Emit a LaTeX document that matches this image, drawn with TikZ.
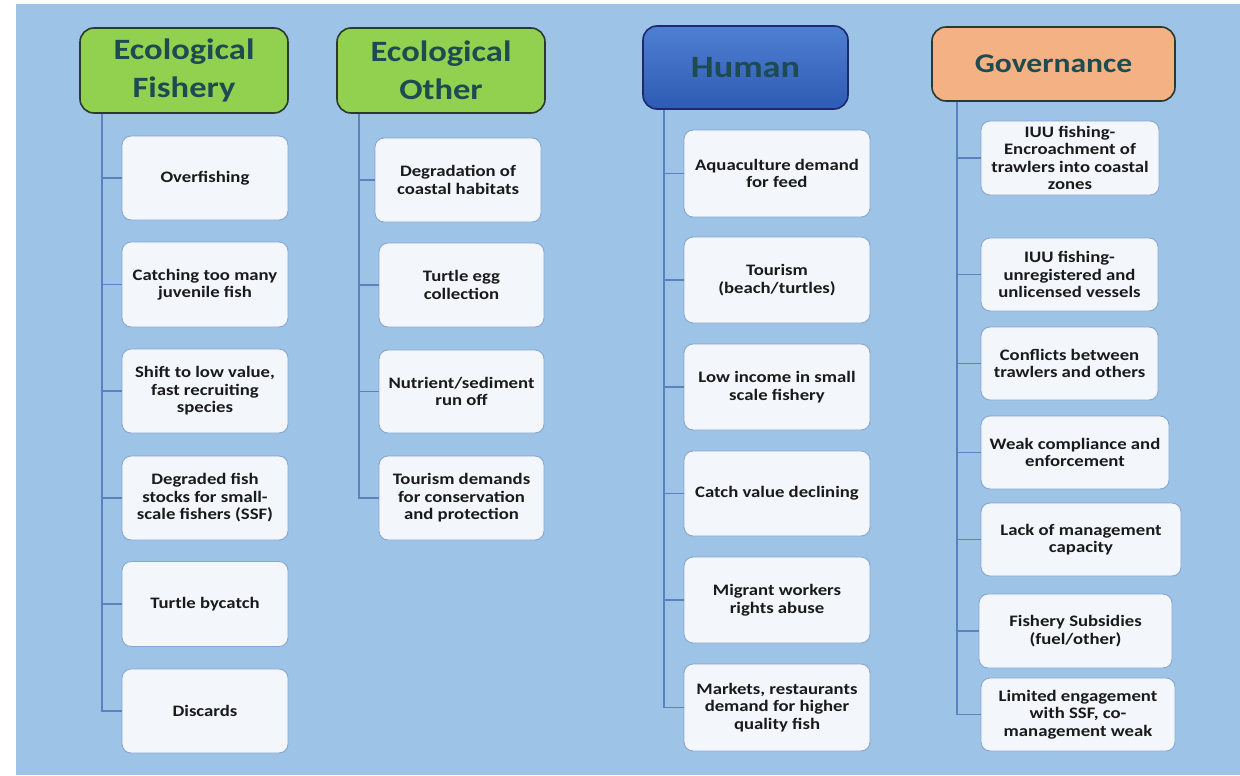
\documentclass[tikz,border=0pt]{standalone}
\usepackage{fontspec}
\setmainfont{Carlito}[FakeStretch=1.17]
\usetikzlibrary{calc}
\definecolor{bgblue}{HTML}{9DC3E6}
\definecolor{hdtext}{HTML}{1E4B50}
\definecolor{greenfill}{HTML}{92D050}
\definecolor{orangefill}{HTML}{F4B183}
\definecolor{bluetop}{HTML}{4F7FD3}
\definecolor{bluebot}{HTML}{2E5BB3}
\definecolor{hdborder}{HTML}{2A3A30}
\definecolor{itemfill}{HTML}{F3F6FB}
\definecolor{itemborder}{HTML}{86A6D6}
\definecolor{treeline}{HTML}{5A82BE}
\definecolor{itemtext}{HTML}{1A1A1A}
\tikzset{
  header/.style={draw=hdborder, line width=1.6pt, rounded corners=14pt,
    text=hdtext, font=\fontsize{29.5}{38}\selectfont\bfseries, align=center,
    inner sep=0pt},
  item/.style={draw=itemborder, line width=0.9pt, fill=itemfill,
    rounded corners=9pt, text=itemtext, align=center, inner sep=0pt,
    font=\fontsize{16}{17.5}\selectfont\bfseries},
  tree/.style={draw=treeline, line width=1.2pt}
}
\newcommand{\itm}[6]{% name, x, y, width, height, text
  \node[item, minimum width=#4, minimum height=#5] (#1) at (#2,#3) {#6};}
\begin{document}
\begin{tikzpicture}[x=1pt,y=-1pt]
\useasboundingbox (0,0) rectangle (1240,776);
\fill[bgblue] (16,4) rectangle (1240,775);

% column headers
\node[header, fill=greenfill, minimum width=208, minimum height=85] (hf) at (184,70.5)
  {Ecological\\Fishery};
\node[header, fill=greenfill, minimum width=208, minimum height=85] (ho) at (441,70.5)
  {Ecological\\Other};
\node[header, top color=bluetop, bottom color=bluebot, draw=hdborder!70!blue,
  minimum width=205, minimum height=83, font=\fontsize{31}{36}\selectfont\bfseries]
  (hh) at (745.5,67.5) {Human};
\node[header, fill=orangefill, minimum width=243, minimum height=74,
  font=\fontsize{27}{32}\selectfont\bfseries] (hg) at (1053.5,64) {Governance};

% ecological: fishery
\itm{f1}{205}{178}{166}{84}{Overfishing}
\itm{f2}{205}{284.5}{166}{85}{Catching too many\\juvenile fish}
\itm{f3}{205}{391}{166}{84}{Shift to low value,\\fast recruiting\\species}
\itm{f4}{205}{498}{166}{84}{Degraded fish\\stocks for small-\\scale fishers (SSF)}
\itm{f5}{205}{604}{166}{85}{Turtle bycatch}
\itm{f6}{205}{711}{166}{84}{Discards}

% ecological: other
\itm{o1}{458}{180}{166}{84}{Degradation of\\coastal habitats}
\itm{o2}{461.5}{285}{165}{84}{Turtle egg\\collection}
\itm{o3}{461.5}{391.5}{165}{83}{Nutrient/sediment\\run off}
\itm{o4}{461.5}{498}{165}{84}{Tourism demands\\for conservation\\and protection}

% human
\itm{m1}{777}{173.5}{186}{87}{Aquaculture demand\\for feed}
\itm{m2}{777}{280}{186}{86}{Tourism\\(beach/turtles)}
\itm{m3}{777}{387}{186}{86}{Low income in small\\scale fishery}
\itm{m4}{777}{493.5}{186}{85}{Catch value declining}
\itm{m5}{777}{600}{186}{86}{Migrant workers\\rights abuse}
\itm{m6}{777}{707.5}{186}{87}{Markets, restaurants\\demand for higher\\quality fish}

% governance
\itm{g1}{1070}{158}{178}{74}{IUU fishing-\\Encroachment of\\trawlers into coastal\\zones}
\itm{g2}{1069.5}{274.5}{177}{73}{IUU fishing-\\unregistered and\\unlicensed vessels}
\itm{g3}{1069.5}{363.5}{177}{73}{Conflicts between\\trawlers and others}
\itm{g4}{1075}{452.5}{188}{73}{Weak compliance and\\enforcement}
\itm{g5}{1081}{539.5}{200}{73}{Lack of management\\capacity}
\itm{g6}{1075.5}{631}{193}{74}{Fishery Subsidies\\(fuel/other)}
\itm{g7}{1078}{714.5}{194}{73}{Limited engagement\\with SSF, co-\\management weak}

% tree spines
\coordinate (tf) at (102,0);
\coordinate (to) at (359,0);
\coordinate (th) at (664,0);
\coordinate (tg) at (957,0);

\draw[tree] (hf.south -| tf) |- (f6.west);
\foreach \n in {f1,f2,f3,f4,f5} \draw[tree] (\n.west -| tf) -- (\n.west);
\draw[tree] (ho.south -| to) |- (o4.west);
\foreach \n in {o1,o2,o3} \draw[tree] (\n.west -| to) -- (\n.west);
\draw[tree] (hh.south -| th) |- (m6.west);
\foreach \n in {m1,m2,m3,m4,m5} \draw[tree] (\n.west -| th) -- (\n.west);
\draw[tree] (hg.south -| tg) |- (g7.west);
\foreach \n in {g1,g2,g3,g4,g5,g6} \draw[tree] (\n.west -| tg) -- (\n.west);
\end{tikzpicture}
\end{document}
